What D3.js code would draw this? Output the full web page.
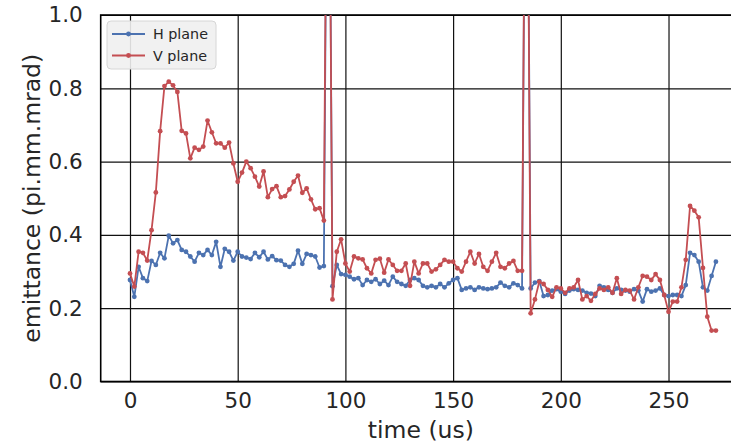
<!DOCTYPE html>
<html>
<head>
<meta charset="utf-8">
<script src="https://cdn.jsdelivr.net/npm/d3@7"></script>
<style>
  html, body { margin: 0; padding: 0; background: #ffffff; }
  svg { display: block; font-family: "DejaVu Sans", sans-serif; }
</style>
</head>
<body>
<svg id="chart" width="731" height="444"></svg>
<script>
// Sample times (us), one sample every 2 us
const times = d3.range(0, 273, 2);

// Horizontal-plane emittance (pi.mm.mrad)
const hPlane = [
  0.277, 0.231, 0.313, 0.282, 0.274, 0.329, 0.318, 0.351, 0.336, 0.398,
  0.377, 0.386, 0.359, 0.354, 0.341, 0.327, 0.351, 0.345, 0.359, 0.345,
  0.381, 0.313, 0.362, 0.354, 0.330, 0.354, 0.341, 0.338, 0.334, 0.351,
  0.339, 0.354, 0.333, 0.342, 0.331, 0.330, 0.318, 0.313, 0.321, 0.357,
  0.321, 0.348, 0.345, 0.341, 0.311, 0.315, 2.000, 0.260, 0.318, 0.293,
  0.291, 0.286, 0.279, 0.282, 0.263, 0.277, 0.272, 0.279, 0.266, 0.275,
  0.263, 0.286, 0.272, 0.266, 0.261, 0.277, 0.282, 0.277, 0.261, 0.257,
  0.261, 0.257, 0.266, 0.257, 0.268, 0.277, 0.282, 0.250, 0.254, 0.257,
  0.250, 0.257, 0.254, 0.252, 0.254, 0.257, 0.270, 0.261, 0.257, 0.268,
  0.263, 0.254, 2.000, 0.254, 0.270, 0.274, 0.233, 0.236, 0.248, 0.252,
  0.245, 0.239, 0.248, 0.252, 0.250, 0.248, 0.242, 0.240, 0.233, 0.261,
  0.257, 0.250, 0.242, 0.254, 0.250, 0.248, 0.245, 0.252, 0.248, 0.218,
  0.252, 0.245, 0.248, 0.254, 0.236, 0.233, 0.236, 0.236, 0.233, 0.263,
  0.351, 0.345, 0.327, 0.257, 0.248, 0.288, 0.327
];

// Vertical-plane emittance (pi.mm.mrad)
const vPlane = [
  0.295, 0.259, 0.354, 0.351, 0.330, 0.413, 0.516, 0.683, 0.806, 0.818,
  0.808, 0.790, 0.684, 0.677, 0.609, 0.638, 0.632, 0.641, 0.712, 0.680,
  0.650, 0.650, 0.638, 0.652, 0.595, 0.545, 0.570, 0.600, 0.582, 0.559,
  0.532, 0.573, 0.503, 0.525, 0.533, 0.503, 0.506, 0.524, 0.545, 0.562,
  0.515, 0.527, 0.497, 0.470, 0.473, 0.439, 2.000, 0.224, 0.354, 0.388,
  0.322, 0.300, 0.341, 0.336, 0.333, 0.309, 0.295, 0.332, 0.335, 0.297,
  0.333, 0.318, 0.302, 0.302, 0.322, 0.261, 0.327, 0.295, 0.322, 0.322,
  0.300, 0.306, 0.318, 0.332, 0.327, 0.327, 0.309, 0.300, 0.327, 0.354,
  0.322, 0.348, 0.313, 0.302, 0.327, 0.351, 0.313, 0.309, 0.322, 0.329,
  0.302, 0.302, 2.000, 0.186, 0.224, 0.272, 0.266, 0.250, 0.231, 0.257,
  0.254, 0.242, 0.254, 0.257, 0.277, 0.224, 0.233, 0.220, 0.239, 0.254,
  0.250, 0.257, 0.242, 0.282, 0.239, 0.250, 0.248, 0.224, 0.257, 0.288,
  0.286, 0.277, 0.293, 0.277, 0.236, 0.190, 0.218, 0.218, 0.257, 0.332,
  0.479, 0.466, 0.448, 0.310, 0.177, 0.139, 0.139
];

const xTicks = [0, 50, 100, 150, 200, 250];
const yTicks = [0.0, 0.2, 0.4, 0.6, 0.8, 1.0];

const seriesNames = ["H plane", "V plane"];
const seriesColors = ["#4c72b0", "#c44e52"];

const svg = d3.select("#chart");
const plot = { left: 100.7, right: 745.2, top: 15, bottom: 381.5 };

const x = d3.scaleLinear().domain([-13.6, 285.6]).range([plot.left, plot.right]);
const y = d3.scaleLinear().domain([0, 1]).range([plot.bottom, plot.top]);

const textColor = "#262626";

svg.append("defs").append("clipPath").attr("id", "plotClip")
  .append("rect")
  .attr("x", plot.left).attr("y", plot.top)
  .attr("width", plot.right - plot.left).attr("height", plot.bottom - plot.top);

// Grid lines
const gridX = svg.append("g")
  .attr("transform", `translate(0,${plot.bottom})`)
  .call(d3.axisBottom(x).tickValues(xTicks).tickSize(-(plot.bottom - plot.top)).tickFormat(""));
gridX.select(".domain").remove();
gridX.selectAll("line").attr("stroke", "#111").attr("stroke-width", 1.2);

const gridY = svg.append("g")
  .attr("transform", `translate(${plot.left},0)`)
  .call(d3.axisLeft(y).tickValues(yTicks).tickSize(-(plot.right - plot.left)).tickFormat(""));
gridY.select(".domain").remove();
gridY.selectAll("line").attr("stroke", "#111").attr("stroke-width", 1.2);

// Tick labels
const axX = svg.append("g")
  .attr("transform", `translate(0,${plot.bottom})`)
  .call(d3.axisBottom(x).tickValues(xTicks).tickSize(0).tickPadding(11).tickFormat(d3.format("d")));
axX.select(".domain").remove();
axX.selectAll("text")
  .attr("fill", textColor)
  .style("font-size", "21.5px")
  .style("font-family", "DejaVu Sans, sans-serif");

const axY = svg.append("g")
  .attr("transform", `translate(${plot.left},0)`)
  .call(d3.axisLeft(y).tickValues(yTicks).tickSize(0).tickPadding(18).tickFormat(d3.format(".1f")));
axY.select(".domain").remove();
axY.selectAll("text")
  .attr("fill", textColor)
  .style("font-size", "21.5px")
  .style("font-family", "DejaVu Sans, sans-serif");

// Frame
svg.append("rect")
  .attr("x", plot.left).attr("y", plot.top)
  .attr("width", plot.right - plot.left).attr("height", plot.bottom - plot.top)
  .attr("fill", "none").attr("stroke", "#000").attr("stroke-width", 1.6);

// Series
const seriesData = [hPlane, vPlane];
const lineGen = d3.line().x((d, i) => x(times[i])).y(d => y(d));
const plotG = svg.append("g").attr("clip-path", "url(#plotClip)");

seriesData.forEach((vals, s) => {
  plotG.append("path")
    .datum(vals)
    .attr("d", lineGen)
    .attr("fill", "none")
    .attr("stroke", seriesColors[s])
    .attr("stroke-width", 1.8)
    .attr("stroke-linejoin", "round");
  plotG.selectAll(null)
    .data(vals)
    .enter().append("circle")
    .attr("cx", (d, i) => x(times[i]))
    .attr("cy", d => y(d))
    .attr("r", 2.4)
    .attr("fill", seriesColors[s]);
});

// Axis titles
svg.append("text")
  .attr("x", (plot.left + 731) / 2 + 5).attr("y", 438)
  .attr("text-anchor", "middle")
  .attr("fill", textColor)
  .style("font-size", "23.5px")
  .text("time (us)");

svg.append("text")
  .attr("transform", `translate(40,${(plot.top + plot.bottom) / 2}) rotate(-90)`)
  .attr("text-anchor", "middle")
  .attr("fill", textColor)
  .style("font-size", "23.5px")
  .text("emittance (pi.mm.mrad)");

// Legend
const legend = svg.append("g");
legend.append("rect")
  .attr("x", 107).attr("y", 21).attr("width", 109).attr("height", 48).attr("rx", 4)
  .attr("fill", "#f0f0f0").attr("fill-opacity", 0.9)
  .attr("stroke", "#d6d6d6").attr("stroke-width", 1);
seriesNames.forEach((name, i) => {
  const cy = 34 + i * 21.5;
  legend.append("line")
    .attr("x1", 112).attr("x2", 145).attr("y1", cy).attr("y2", cy)
    .attr("stroke", seriesColors[i]).attr("stroke-width", 1.8);
  legend.append("circle")
    .attr("cx", 128.5).attr("cy", cy).attr("r", 2.4).attr("fill", seriesColors[i]);
  legend.append("text")
    .attr("x", 153).attr("y", cy + 5)
    .attr("fill", textColor)
    .style("font-size", "14.3px")
    .text(name);
});
</script>
</body>
</html>
